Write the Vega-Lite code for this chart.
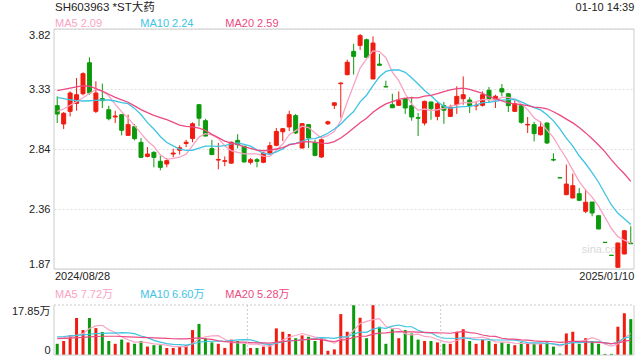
{
"$schema": "https://vega.github.io/schema/vega-lite/v6.json",
"width": 640, "height": 360, "padding": 0,
"autosize": {"type": "none"},
"background": "#ffffff",
"config": {"view": {"stroke": null}, "font": "Liberation Sans, Noto Sans CJK SC", "axis": {"labelFont": "Liberation Sans, Noto Sans CJK SC", "labelFontSize": 11, "labelColor": "#222222"}},
"data": {"values": [
{"i":0,"o":3.197,"h":3.273,"l":3.056,"c":3.129,"v":4.0,"m5":3.15,"m10":3.265,"m20":3.32,"a5":6.0,"a10":6.5,"a20":5.8},
{"i":1,"o":3.048,"h":3.145,"l":3.007,"c":3.135,"v":5.0,"m5":3.17,"m10":3.255,"m20":3.33,"a5":6.2,"a10":6.6,"a20":5.9},
{"i":2,"o":3.151,"h":3.313,"l":3.11,"c":3.3,"v":7.0,"m5":3.2,"m10":3.245,"m20":3.34,"a5":6.5,"a10":6.8,"a20":6.0},
{"i":3,"o":3.216,"h":3.422,"l":3.156,"c":3.286,"v":13.2,"m5":3.23,"m10":3.238,"m20":3.35,"a5":7.0,"a10":7.0,"a20":6.2},
{"i":4,"o":3.294,"h":3.468,"l":3.281,"c":3.457,"v":8.9,"m5":3.261,"m10":3.235,"m20":3.36,"a5":7.62,"a10":7.2,"a20":6.3},
{"i":5,"o":3.546,"h":3.59,"l":3.286,"c":3.3,"v":13.2,"m5":3.296,"m10":3.237,"m20":3.355,"a5":9.46,"a10":7.4,"a20":6.5},
{"i":6,"o":3.151,"h":3.395,"l":3.137,"c":3.3,"v":9.6,"m5":3.329,"m10":3.24,"m20":3.335,"a5":10.38,"a10":7.6,"a20":6.6},
{"i":7,"o":3.254,"h":3.376,"l":3.178,"c":3.238,"v":8.2,"m5":3.316,"m10":3.243,"m20":3.315,"a5":10.62,"a10":7.7,"a20":6.7},
{"i":8,"o":3.164,"h":3.197,"l":3.078,"c":3.091,"v":5.0,"m5":3.277,"m10":3.243,"m20":3.29,"a5":8.98,"a10":7.8,"a20":6.7},
{"i":9,"o":3.105,"h":3.156,"l":3.056,"c":3.113,"v":4.0,"m5":3.208,"m10":3.235,"m20":3.265,"a5":8.0,"a10":7.81,"a20":6.7},
{"i":10,"o":3.124,"h":3.124,"l":2.956,"c":2.997,"v":5.5,"m5":3.148,"m10":3.222,"m20":3.245,"a5":6.46,"a10":7.96,"a20":6.6},
{"i":11,"o":2.956,"h":3.124,"l":2.953,"c":3.043,"v":4.5,"m5":3.096,"m10":3.213,"m20":3.225,"a5":5.44,"a10":7.91,"a20":6.5},
{"i":12,"o":3.026,"h":3.048,"l":2.915,"c":2.929,"v":4.0,"m5":3.035,"m10":3.175,"m20":3.195,"a5":4.6,"a10":7.61,"a20":6.4},
{"i":13,"o":2.899,"h":2.934,"l":2.777,"c":2.777,"v":5.0,"m5":2.972,"m10":3.125,"m20":3.165,"a5":4.6,"a10":6.79,"a20":6.3},
{"i":14,"o":2.785,"h":2.861,"l":2.777,"c":2.804,"v":3.0,"m5":2.91,"m10":3.059,"m20":3.14,"a5":4.4,"a10":6.2,"a20":6.2},
{"i":15,"o":2.818,"h":2.826,"l":2.696,"c":2.777,"v":3.5,"m5":2.866,"m10":3.007,"m20":3.118,"a5":4.0,"a10":5.23,"a20":6.1},
{"i":16,"o":2.745,"h":2.791,"l":2.672,"c":2.696,"v":3.5,"m5":2.797,"m10":2.947,"m20":3.1,"a5":3.8,"a10":4.62,"a20":6.0},
{"i":17,"o":2.723,"h":2.772,"l":2.696,"c":2.75,"v":2.5,"m5":2.761,"m10":2.898,"m20":3.083,"a5":3.5,"a10":4.05,"a20":5.9},
{"i":18,"o":2.804,"h":2.848,"l":2.777,"c":2.812,"v":2.5,"m5":2.768,"m10":2.87,"m20":3.062,"a5":3.0,"a10":3.8,"a20":5.8},
{"i":19,"o":2.835,"h":2.875,"l":2.8,"c":2.855,"v":3.0,"m5":2.778,"m10":2.844,"m20":3.039,"a5":3.0,"a10":3.7,"a20":5.76},
{"i":20,"o":2.89,"h":2.92,"l":2.86,"c":2.9,"v":3.5,"m5":2.803,"m10":2.834,"m20":3.028,"a5":3.0,"a10":3.5,"a20":5.73},
{"i":21,"o":2.93,"h":3.062,"l":2.9,"c":3.05,"v":8.9,"m5":2.873,"m10":2.835,"m20":3.024,"a5":4.08,"a10":3.94,"a20":5.93},
{"i":22,"o":3.205,"h":3.21,"l":3.03,"c":3.095,"v":11.1,"m5":2.942,"m10":2.852,"m20":3.014,"a5":5.8,"a10":4.65,"a20":6.13},
{"i":23,"o":3.075,"h":3.09,"l":2.95,"c":2.95,"v":6.0,"m5":2.97,"m10":2.869,"m20":2.997,"a5":6.5,"a10":4.75,"a20":5.77},
{"i":24,"o":2.848,"h":2.92,"l":2.795,"c":2.8,"v":4.5,"m5":2.959,"m10":2.869,"m20":2.964,"a5":6.8,"a10":4.9,"a20":5.55},
{"i":25,"o":2.755,"h":2.895,"l":2.68,"c":2.76,"v":4.0,"m5":2.931,"m10":2.867,"m20":2.937,"a5":6.9,"a10":4.95,"a20":5.09},
{"i":26,"o":2.745,"h":2.785,"l":2.705,"c":2.75,"v":2.5,"m5":2.871,"m10":2.872,"m20":2.909,"a5":5.62,"a10":4.85,"a20":4.74},
{"i":27,"o":2.73,"h":2.905,"l":2.725,"c":2.9,"v":5.5,"m5":2.832,"m10":2.887,"m20":2.892,"a5":4.5,"a10":5.15,"a20":4.6},
{"i":28,"o":2.915,"h":2.965,"l":2.85,"c":2.88,"v":5.0,"m5":2.818,"m10":2.894,"m20":2.882,"a5":4.3,"a10":5.4,"a20":4.6},
{"i":29,"o":2.867,"h":2.87,"l":2.735,"c":2.74,"v":4.0,"m5":2.806,"m10":2.883,"m20":2.863,"a5":4.2,"a10":5.5,"a20":4.6},
{"i":30,"o":2.737,"h":2.772,"l":2.72,"c":2.758,"v":2.5,"m5":2.806,"m10":2.868,"m20":2.851,"a5":3.9,"a10":5.4,"a20":4.45},
{"i":31,"o":2.758,"h":2.772,"l":2.696,"c":2.745,"v":2.5,"m5":2.805,"m10":2.838,"m20":2.836,"a5":3.9,"a10":4.76,"a20":4.35},
{"i":32,"o":2.737,"h":2.818,"l":2.73,"c":2.812,"v":3.0,"m5":2.787,"m10":2.81,"m20":2.831,"a5":3.4,"a10":3.95,"a20":4.3},
{"i":33,"o":2.812,"h":2.902,"l":2.8,"c":2.872,"v":3.5,"m5":2.785,"m10":2.802,"m20":2.835,"a5":3.1,"a10":3.7,"a20":4.23},
{"i":34,"o":2.875,"h":3.015,"l":2.867,"c":2.988,"v":9.5,"m5":2.835,"m10":2.821,"m20":2.845,"a5":4.2,"a10":4.2,"a20":4.55},
{"i":35,"o":2.985,"h":3.016,"l":2.91,"c":3.01,"v":8.3,"m5":2.885,"m10":2.846,"m20":2.856,"a5":5.36,"a10":4.63,"a20":4.79},
{"i":36,"o":3.024,"h":3.156,"l":2.99,"c":3.124,"v":7.5,"m5":2.961,"m10":2.883,"m20":2.878,"a5":6.36,"a10":5.13,"a20":4.99},
{"i":37,"o":3.116,"h":3.13,"l":2.967,"c":2.975,"v":6.0,"m5":2.994,"m10":2.89,"m20":2.889,"a5":6.96,"a10":5.18,"a20":5.17},
{"i":38,"o":2.853,"h":3.056,"l":2.848,"c":3.051,"v":7.0,"m5":3.03,"m10":2.908,"m20":2.901,"a5":7.66,"a10":5.38,"a20":5.39},
{"i":39,"o":3.043,"h":3.048,"l":2.853,"c":2.934,"v":6.5,"m5":3.019,"m10":2.927,"m20":2.905,"a5":7.06,"a10":5.63,"a20":5.57},
{"i":40,"o":2.899,"h":2.92,"l":2.785,"c":2.793,"v":5.0,"m5":2.975,"m10":2.93,"m20":2.899,"a5":6.4,"a10":5.88,"a20":5.64},
{"i":41,"o":2.78,"h":2.934,"l":2.772,"c":2.92,"v":6.0,"m5":2.935,"m10":2.948,"m20":2.893,"a5":6.1,"a10":6.23,"a20":5.5},
{"i":42,"o":3.05,"h":3.075,"l":3.04,"c":3.066,"v":1.5,"m5":2.953,"m10":2.973,"m20":2.891,"a5":5.2,"a10":6.08,"a20":5.02},
{"i":43,"o":3.2,"h":3.226,"l":3.17,"c":3.22,"v":2.0,"m5":2.987,"m10":3.008,"m20":2.905,"a5":4.2,"a10":5.93,"a20":4.82},
{"i":44,"o":3.375,"h":3.385,"l":3.1,"c":3.381,"v":14.6,"m5":3.076,"m10":3.047,"m20":2.934,"a5":5.82,"a10":6.44,"a20":5.32},
{"i":45,"o":3.449,"h":3.57,"l":3.443,"c":3.55,"v":8.3,"m5":3.227,"m10":3.101,"m20":2.973,"a5":6.48,"a10":6.44,"a20":5.54},
{"i":46,"o":3.638,"h":3.7,"l":3.45,"c":3.598,"v":17.8,"m5":3.363,"m10":3.149,"m20":3.016,"a5":8.84,"a10":7.47,"a20":6.3},
{"i":47,"o":3.687,"h":3.78,"l":3.65,"c":3.766,"v":13.3,"m5":3.503,"m10":3.228,"m20":3.059,"a5":11.2,"a10":8.2,"a20":6.69},
{"i":48,"o":3.733,"h":3.742,"l":3.59,"c":3.59,"v":6.0,"m5":3.577,"m10":3.282,"m20":3.095,"a5":12.0,"a10":8.1,"a20":6.74},
{"i":49,"o":3.414,"h":3.76,"l":3.414,"c":3.706,"v":17.8,"m5":3.642,"m10":3.359,"m20":3.143,"a5":12.64,"a10":9.23,"a20":7.43},
{"i":50,"o":3.535,"h":3.617,"l":3.525,"c":3.525,"v":10.1,"m5":3.637,"m10":3.432,"m20":3.181,"a5":13.0,"a10":9.74,"a20":7.81},
{"i":51,"o":3.352,"h":3.4,"l":3.349,"c":3.349,"v":4.0,"m5":3.587,"m10":3.475,"m20":3.212,"a5":10.24,"a10":9.54,"a20":7.89},
{"i":52,"o":3.205,"h":3.294,"l":3.178,"c":3.18,"v":9.2,"m5":3.47,"m10":3.487,"m20":3.23,"a5":9.42,"a10":10.31,"a20":8.2},
{"i":53,"o":3.2,"h":3.313,"l":3.195,"c":3.238,"v":6.0,"m5":3.4,"m10":3.488,"m20":3.248,"a5":9.42,"a10":10.71,"a20":8.32},
{"i":54,"o":3.254,"h":3.26,"l":3.13,"c":3.178,"v":8.9,"m5":3.294,"m10":3.468,"m20":3.258,"a5":7.64,"a10":10.14,"a20":8.29},
{"i":55,"o":3.197,"h":3.27,"l":3.075,"c":3.105,"v":7.7,"m5":3.21,"m10":3.424,"m20":3.262,"a5":7.16,"a10":10.08,"a20":8.26},
{"i":56,"o":3.1,"h":3.137,"l":2.95,"c":3.095,"v":5.5,"m5":3.159,"m10":3.373,"m20":3.261,"a5":7.46,"a10":8.85,"a20":8.16},
{"i":57,"o":3.056,"h":3.238,"l":3.037,"c":3.232,"v":5.0,"m5":3.17,"m10":3.32,"m20":3.274,"a5":6.62,"a10":8.02,"a20":8.11},
{"i":58,"o":3.227,"h":3.23,"l":3.083,"c":3.173,"v":5.0,"m5":3.157,"m10":3.278,"m20":3.28,"a5":6.42,"a10":7.92,"a20":8.01},
{"i":59,"o":3.11,"h":3.227,"l":3.078,"c":3.213,"v":4.5,"m5":3.164,"m10":3.229,"m20":3.294,"a5":5.54,"a10":6.59,"a20":7.91},
{"i":60,"o":3.197,"h":3.227,"l":3.05,"c":3.16,"v":4.0,"m5":3.175,"m10":3.192,"m20":3.312,"a5":4.8,"a10":5.98,"a20":7.86},
{"i":61,"o":3.11,"h":3.205,"l":3.105,"c":3.186,"v":4.0,"m5":3.193,"m10":3.176,"m20":3.326,"a5":4.5,"a10":5.98,"a20":7.76},
{"i":62,"o":3.205,"h":3.354,"l":3.13,"c":3.273,"v":8.3,"m5":3.201,"m10":3.185,"m20":3.336,"a5":5.16,"a10":5.89,"a20":8.1},
{"i":63,"o":3.254,"h":3.435,"l":3.205,"c":3.286,"v":9.2,"m5":3.224,"m10":3.19,"m20":3.339,"a5":6.0,"a10":6.21,"a20":8.46},
{"i":64,"o":3.243,"h":3.265,"l":3.137,"c":3.197,"v":5.0,"m5":3.22,"m10":3.192,"m20":3.33,"a5":6.1,"a10":5.82,"a20":7.98},
{"i":65,"o":3.195,"h":3.232,"l":3.159,"c":3.2,"v":4.0,"m5":3.228,"m10":3.202,"m20":3.313,"a5":6.1,"a10":5.45,"a20":7.77},
{"i":66,"o":3.2,"h":3.313,"l":3.19,"c":3.286,"v":5.5,"m5":3.248,"m10":3.221,"m20":3.297,"a5":6.4,"a10":5.45,"a20":7.15},
{"i":67,"o":3.322,"h":3.349,"l":3.227,"c":3.254,"v":5.0,"m5":3.245,"m10":3.223,"m20":3.271,"a5":5.74,"a10":5.45,"a20":6.74},
{"i":68,"o":3.25,"h":3.286,"l":3.178,"c":3.273,"v":4.0,"m5":3.242,"m10":3.233,"m20":3.255,"a5":4.7,"a10":5.35,"a20":6.64},
{"i":69,"o":3.335,"h":3.373,"l":3.273,"c":3.308,"v":4.5,"m5":3.264,"m10":3.242,"m20":3.236,"a5":4.6,"a10":5.35,"a20":5.97},
{"i":70,"o":3.294,"h":3.3,"l":3.145,"c":3.197,"v":4.0,"m5":3.264,"m10":3.246,"m20":3.219,"a5":4.6,"a10":5.35,"a20":5.67},
{"i":71,"o":3.151,"h":3.24,"l":3.145,"c":3.213,"v":3.5,"m5":3.249,"m10":3.249,"m20":3.212,"a5":4.2,"a10":5.3,"a20":5.64},
{"i":72,"o":3.197,"h":3.2,"l":3.05,"c":3.062,"v":4.5,"m5":3.211,"m10":3.228,"m20":3.206,"a5":4.1,"a10":4.92,"a20":5.41},
{"i":73,"o":3.04,"h":3.105,"l":2.975,"c":3.045,"v":4.0,"m5":3.165,"m10":3.204,"m20":3.197,"a5":4.1,"a10":4.4,"a20":5.31},
{"i":74,"o":3.043,"h":3.065,"l":2.907,"c":2.97,"v":4.0,"m5":3.097,"m10":3.181,"m20":3.186,"a5":4.0,"a10":4.3,"a20":5.06},
{"i":75,"o":2.961,"h":3.07,"l":2.955,"c":3.024,"v":4.0,"m5":3.063,"m10":3.163,"m20":3.182,"a5":4.0,"a10":4.3,"a20":4.88},
{"i":76,"o":3.056,"h":3.06,"l":2.885,"c":2.894,"v":4.5,"m5":2.999,"m10":3.124,"m20":3.172,"a5":4.2,"a10":4.2,"a20":4.83},
{"i":77,"o":2.76,"h":2.81,"l":2.745,"c":2.755,"v":3.0,"m5":2.938,"m10":3.074,"m20":3.148,"a5":3.9,"a10":4.0,"a20":4.73},
{"i":78,"o":2.612,"h":2.612,"l":2.608,"c":2.61,"v":0.5,"m5":2.851,"m10":3.008,"m20":3.12,"a5":3.2,"a10":3.65,"a20":4.5},
{"i":79,"o":2.474,"h":2.718,"l":2.47,"c":2.56,"v":7.7,"m5":2.769,"m10":2.933,"m20":3.088,"a5":3.94,"a10":3.97,"a20":4.66},
{"i":80,"o":2.447,"h":2.645,"l":2.445,"c":2.547,"v":8.3,"m5":2.673,"m10":2.868,"m20":3.057,"a5":4.8,"a10":4.4,"a20":4.88},
{"i":81,"o":2.482,"h":2.528,"l":2.425,"c":2.428,"v":4.0,"m5":2.58,"m10":2.79,"m20":3.019,"a5":4.7,"a10":4.45,"a20":4.88},
{"i":82,"o":2.339,"h":2.52,"l":2.325,"c":2.412,"v":6.0,"m5":2.511,"m10":2.725,"m20":2.976,"a5":5.3,"a10":4.6,"a20":4.76},
{"i":83,"o":2.414,"h":2.415,"l":2.298,"c":2.325,"v":5.0,"m5":2.454,"m10":2.653,"m20":2.928,"a5":6.2,"a10":4.7,"a20":4.55},
{"i":84,"o":2.303,"h":2.303,"l":2.195,"c":2.195,"v":4.0,"m5":2.381,"m10":2.575,"m20":2.878,"a5":5.46,"a10":4.7,"a20":4.5},
{"i":85,"o":2.087,"h":2.087,"l":2.083,"c":2.085,"v":0.4,"m5":2.289,"m10":2.481,"m20":2.822,"a5":3.88,"a10":4.34,"a20":4.32},
{"i":86,"o":1.982,"h":1.982,"l":1.978,"c":1.98,"v":0.4,"m5":2.199,"m10":2.39,"m20":2.757,"a5":3.16,"a10":3.93,"a20":4.07},
{"i":87,"o":1.884,"h":2.085,"l":1.882,"c":2.081,"v":10.1,"m5":2.133,"m10":2.322,"m20":2.698,"a5":3.98,"a10":4.64,"a20":4.32},
{"i":88,"o":1.992,"h":2.185,"l":1.99,"c":2.181,"v":14.9,"m5":2.104,"m10":2.279,"m20":2.644,"a5":5.96,"a10":6.08,"a20":4.87},
{"i":89,"o":2.08,"h":2.217,"l":2.075,"c":2.075,"v":12.8,"m5":2.08,"m10":2.231,"m20":2.582,"a5":7.72,"a10":6.59,"a20":5.28}
]},
"layer": [
 {"layer": [
  {"data": {"values": [{}]}, "mark": {"type": "text", "text": "sina.com", "align": "left", "baseline": "middle", "fontSize": 11, "color": "#d9d9d9"},
   "encoding": {"x": {"datum": 81.4, "axis": null, "scale": {"domain": [-0.5, 89.5], "range": [54, 634], "padding": 0, "nice": false, "zero": false}}, "y": {"datum": 2.024, "type": "quantitative", "scale": {"type": "linear", "domain": [1.87, 3.82], "range": [269, 29], "nice": false, "zero": false},
     "axis": {"orient": "left", "offset": -54, "values": [1.87, 2.3575, 2.8449, 3.3325, 3.82], "format": ".2f", "labelFlush": true, "grid": true, "gridDash": [2, 2], "gridColor": "#dddddd", "domain": false, "ticks": false, "labelPadding": 4, "title": null}}}},
  {"mark": {"type": "rule", "strokeWidth": 1}, "encoding": {
    "x": {"field": "i", "type": "quantitative", "axis": null, "scale": {"domain": [-0.5, 89.5], "range": [54, 634], "padding": 0, "nice": false, "zero": false}},
    "y": {"field": "l", "type": "quantitative", "title": null}, "y2": {"field": "h"},
    "color": {"condition": {"test": "datum.c >= datum.o", "value": "#f01c10"}, "value": "#0c9a0c"}}},
  {"mark": {"type": "bar", "size": 4, "strokeWidth": 1}, "encoding": {"x": {"field": "i", "type": "quantitative", "axis": null}, "y": {"field": "o", "type": "quantitative", "title": null}, "y2": {"field": "c"},
    "color": {"condition": {"test": "datum.c >= datum.o", "value": "#f01c10"}, "value": "#0c9a0c"},
    "stroke": {"condition": {"test": "datum.c >= datum.o", "value": "#f01c10"}, "value": "#0c9a0c"}}},
  {"mark": {"type": "line", "color": "#f9a3c5", "strokeWidth": 1.3}, "encoding": {"x": {"field": "i", "type": "quantitative", "axis": null}, "y": {"field": "m5", "type": "quantitative", "title": null}}},
  {"mark": {"type": "line", "color": "#3ec4e2", "strokeWidth": 1.3}, "encoding": {"x": {"field": "i", "type": "quantitative", "axis": null}, "y": {"field": "m10", "type": "quantitative", "title": null}}},
  {"mark": {"type": "line", "color": "#ec4a82", "strokeWidth": 1.3}, "encoding": {"x": {"field": "i", "type": "quantitative", "axis": null}, "y": {"field": "m20", "type": "quantitative", "title": null}}},
  {"data": {"values": [{}]}, "mark": {"type": "rect", "fill": "#ffffff", "fillOpacity": 0, "stroke": "#cccccc", "strokeWidth": 1},
   "encoding": {"x": {"datum": -0.5, "axis": null}, "x2": {"datum": 89.5}, "y": {"datum": 1.87}, "y2": {"datum": 3.82}}},
  {"data": {"values": [{}]}, "mark": {"type": "text", "text": "SH603963 *ST大药", "align": "left", "baseline": "middle", "fontSize": 11.5, "color": "#222222"},
   "encoding": {"x": {"datum": -0.345, "axis": null}, "y": {"datum": 3.9906}}},
  {"data": {"values": [{}]}, "mark": {"type": "text", "text": "01-10 14:39", "align": "right", "baseline": "middle", "fontSize": 11, "color": "#222222"},
   "encoding": {"x": {"datum": 89.55, "axis": null}, "y": {"datum": 3.9906}}},
  {"data": {"values": [{}]}, "mark": {"type": "text", "text": "MA5 2.09", "align": "left", "baseline": "middle", "fontSize": 11, "color": "#f9a3c5"},
   "encoding": {"x": {"datum": -0.345, "axis": null}, "y": {"datum": 3.8566}}},
  {"data": {"values": [{}]}, "mark": {"type": "text", "text": "MA10 2.24", "align": "left", "baseline": "middle", "fontSize": 11, "color": "#3ec4e2"},
   "encoding": {"x": {"datum": 12.89, "axis": null}, "y": {"datum": 3.8566}}},
  {"data": {"values": [{}]}, "mark": {"type": "text", "text": "MA20 2.59", "align": "left", "baseline": "middle", "fontSize": 11, "color": "#ec4a82"},
   "encoding": {"x": {"datum": 26.08, "axis": null}, "y": {"datum": 3.8566}}},
  {"data": {"values": [{}]}, "mark": {"type": "text", "text": "2024/08/28", "align": "left", "baseline": "middle", "fontSize": 11, "color": "#222222"},
   "encoding": {"x": {"datum": -0.345, "axis": null}, "y": {"datum": 1.801}}},
  {"data": {"values": [{}]}, "mark": {"type": "text", "text": "2025/01/10", "align": "right", "baseline": "middle", "fontSize": 11, "color": "#222222"},
   "encoding": {"x": {"datum": 89.55, "axis": null}, "y": {"datum": 1.801}}},
  {"data": {"values": [{}]}, "mark": {"type": "text", "text": "MA5 7.72万", "align": "left", "baseline": "middle", "fontSize": 11, "color": "#f9a3c5"},
   "encoding": {"x": {"datum": -0.345, "axis": null}, "y": {"datum": 1.6628}}},
  {"data": {"values": [{}]}, "mark": {"type": "text", "text": "MA10 6.60万", "align": "left", "baseline": "middle", "fontSize": 11, "color": "#3ec4e2"},
   "encoding": {"x": {"datum": 12.89, "axis": null}, "y": {"datum": 1.6628}}},
  {"data": {"values": [{}]}, "mark": {"type": "text", "text": "MA20 5.28万", "align": "left", "baseline": "middle", "fontSize": 11, "color": "#ec4a82"},
   "encoding": {"x": {"datum": 26.08, "axis": null}, "y": {"datum": 1.6628}}}
 ]},
 {"layer": [
  {"mark": {"type": "bar", "size": 3}, "encoding": {"x": {"field": "i", "type": "quantitative", "axis": null},
    "y": {"field": "v", "type": "quantitative", "title": null, "scale": {"type": "linear", "domain": [0, 17.85], "range": [355, 305], "nice": false, "zero": true},
     "axis": {"orient": "left", "offset": -54, "values": [0, 17.85], "labelExpr": "datum.value == 0 ? '0' : '17.85万'", "labelFlush": true, "grid": false, "domain": false, "ticks": false, "labelPadding": 4, "title": null}},
    "y2": {"datum": 0},
    "color": {"condition": {"test": "datum.c >= datum.o", "value": "#f01c10"}, "value": "#0c9a0c"}}},
  {"mark": {"type": "line", "color": "#f9a3c5", "strokeWidth": 1.2}, "encoding": {"x": {"field": "i", "type": "quantitative", "axis": null}, "y": {"field": "a5", "type": "quantitative", "title": null}}},
  {"mark": {"type": "line", "color": "#3ec4e2", "strokeWidth": 1.2}, "encoding": {"x": {"field": "i", "type": "quantitative", "axis": null}, "y": {"field": "a10", "type": "quantitative", "title": null}}},
  {"mark": {"type": "line", "color": "#ec4a82", "strokeWidth": 1.2}, "encoding": {"x": {"field": "i", "type": "quantitative", "axis": null}, "y": {"field": "a20", "type": "quantitative", "title": null}}},
  {"data": {"values": [{}]}, "mark": {"type": "rule", "color": "#cccccc", "strokeDash": [2, 2]}, "encoding": {"x": {"datum": -0.5, "axis": null}, "x2": {"datum": 89.5}, "y": {"datum": 17.85}}},
  {"data": {"values": [{}]}, "mark": {"type": "rule", "color": "#cccccc", "strokeDash": [2, 2]}, "encoding": {"x": {"datum": 29.5, "axis": null}, "y": {"datum": 0}, "y2": {"datum": 17.85}}},
  {"data": {"values": [{}]}, "mark": {"type": "rule", "color": "#cccccc", "strokeDash": [2, 2]}, "encoding": {"x": {"datum": 59.5, "axis": null}, "y": {"datum": 0}, "y2": {"datum": 17.85}}},
  {"data": {"values": [{}]}, "mark": {"type": "rule", "color": "#cccccc"}, "encoding": {"x": {"datum": -0.5, "axis": null}, "y": {"datum": 0}, "y2": {"datum": 17.85}}},
  {"data": {"values": [{}]}, "mark": {"type": "rule", "color": "#cccccc"}, "encoding": {"x": {"datum": 89.5, "axis": null}, "y": {"datum": 0}, "y2": {"datum": 17.85}}},
  {"data": {"values": [{}]}, "mark": {"type": "rule", "color": "#cccccc"}, "encoding": {"x": {"datum": -0.5, "axis": null}, "x2": {"datum": 89.5}, "y": {"datum": 0}}}
 ]}
],
"resolve": {"scale": {"y": "independent"}, "axis": {"y": "independent"}}
}
